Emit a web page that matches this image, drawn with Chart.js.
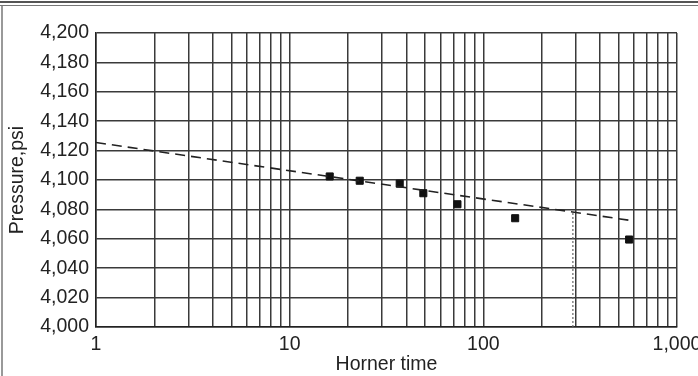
<!DOCTYPE html>
<html>
<head>
<meta charset="utf-8">
<script src="https://cdn.jsdelivr.net/npm/chart.js@4/dist/chart.umd.min.js"></script>
<style>
  html, body { margin: 0; padding: 0; background: #fff; }
  #wrap {
    position: relative;
    width: 698px; height: 376px;
    box-sizing: border-box;
  }
  #wrap:before {
    content: ''; position: absolute; left: 0; top: 1px; width: 698px; height: 5px;
    border-top: 2px solid #555; border-bottom: 1px solid #777; box-sizing: border-box;
  }
  #wrap:after {
    content: ''; position: absolute; left: 1px; top: 6px; width: 2px; height: 370px;
    background: #999;
  }
  canvas { position: absolute; left: 0; top: 0; }
</style>
</head>
<body>
<div id="wrap"><canvas id="c" width="698" height="376"></canvas></div>
<script>
// Horner plot data
const hornerTime = [16.1, 23, 37, 49, 73.5, 146, 566];
const pressure = [4102.4, 4099.5, 4097.5, 4091, 4083.5, 4074, 4059.5];

// dashed straight-line fit
const fitTime = [1, 575];
const fitPressure = [4125.5, 4072.5];

// dotted marker down to axis
const markTime = [290, 290];
const markPressure = [4000, 4078];

// log grid positions
const xGrid = [1, 2, 3, 4, 5, 6, 7, 8, 9, 10, 20, 30, 40, 50, 60, 70, 80, 90,
  100, 200, 300, 400, 500, 600, 700, 800, 900, 1000];
const xLabels = [1, 10, 100, 1000];

const font = { family: 'Liberation Sans, Arial, sans-serif', size: 19.5 };

const toXY = (xs, ys) => xs.map((x, i) => ({ x: x, y: ys[i] }));

new Chart(document.getElementById('c'), {
  type: 'scatter',
  data: {
    datasets: [
      {
        type: 'line',
        data: toXY(fitTime, fitPressure),
        borderColor: '#222',
        borderWidth: 1.6,
        borderDash: [10, 6],
        pointRadius: 0
      },
      {
        type: 'line',
        data: toXY(markTime, markPressure),
        borderColor: '#666',
        borderWidth: 1.2,
        borderDash: [2, 2],
        pointRadius: 0
      },
      {
        data: toXY(hornerTime, pressure),
        backgroundColor: '#111',
        borderColor: '#111',
        pointStyle: 'rect',
        pointRadius: 5
      }
    ]
  },
  options: {
    responsive: false,
    animation: false,
    layout: { padding: { left: 0, right: 21, top: 33, bottom: 0 } },
    plugins: { legend: { display: false }, tooltip: { enabled: false } },
    scales: {
      x: {
        type: 'logarithmic',
        min: 1,
        max: 1000,
        afterBuildTicks: scale => { scale.ticks = xGrid.map(v => ({ value: v })); },
        afterFit: scale => {
          scale.height = 49;
          scale.paddingLeft = 0;
          scale.paddingRight = 0;
        },
        grid: { color: '#3a3a3a', lineWidth: 1.5, drawTicks: false },
        border: { color: '#222', width: 1.5 },
        ticks: {
          autoSkip: false,
          maxRotation: 0,
          padding: 6,
          color: '#222',
          font: font,
          callback: v => xLabels.includes(v) ? v.toLocaleString('en-US') : ''
        },
        title: {
          display: true,
          text: 'Horner time',
          color: '#222',
          font: font,
          padding: { top: 0, bottom: 0 }
        }
      },
      y: {
        min: 4000,
        max: 4200,
        afterFit: scale => { scale.width = 96; },
        grid: { color: '#3a3a3a', lineWidth: 1.5, drawTicks: false },
        border: { color: '#222', width: 1.5 },
        ticks: {
          stepSize: 20,
          padding: 7,
          color: '#222',
          font: font,
          callback: v => v.toLocaleString('en-US')
        },
        title: {
          display: true,
          text: 'Pressure,psi',
          color: '#222',
          font: font,
          padding: { top: 6, bottom: 0 }
        }
      }
    }
  }
});
</script>
</body>
</html>
